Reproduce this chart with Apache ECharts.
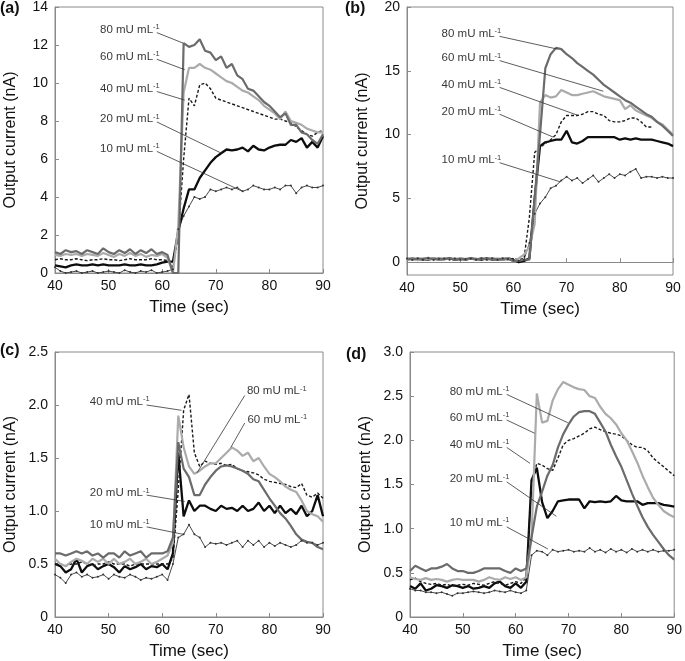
<!DOCTYPE html>
<html><head><meta charset="utf-8">
<script src="https://cdn.jsdelivr.net/npm/echarts@6/dist/echarts.min.js"></script>
<style>html,body{margin:0;padding:0;background:#fff}#c{width:685px;height:661px}</style>
</head><body><div id="c"></div><script>
const times = [40,41,42,43,44,45,46,47,48,49,50,51,52,53,54,55,56,57,58,59,60,61,62,63,64,65,66,67,68,69,70,71,72,73,74,75,76,77,78,79,80,81,82,83,84,85,86,87,88,89,90];
const concLabels = ['80 mU mL','60 mU mL','40 mU mL','20 mU mL','10 mU mL'];

// Panel (a)
const A80 = [1.1,1.0,1.2,1.1,1.15,1.0,1.2,1.1,1.0,1.3,1.1,1.0,1.2,1.05,1.25,1.0,1.2,1.05,1.25,1.0,1.1,0.95, 0,0, 12.1,11.9,12.0,12.3,11.7,11.6, 11.2,11.4,10.8,11.0,10.4,10.2,9.7,9.6,9.3,9.0, 8.8,8.5,8.2,8.4,7.8,7.8,7.4,7.3,7.0,6.8, 7.3];
const A60 = [0.95,0.9,1.0,0.95,1.0,0.9,1.0,0.95,0.9,1.05,0.95,0.85,1.0,0.9,1.05,0.9,1.0,0.85,0.95,0.9,1.0,0.8, 0,2.5, 9.5,10.8,10.8,11.0,10.8,10.7, 10.5,10.3,10.1,10.0,9.8,9.6,9.5,9.3,9.1,8.8, 8.6,8.4,8.1,8.5,8.0,7.9,7.8,7.6,7.5,7.4, 7.4];
const A40 = [0.7,0.75,0.7,0.7,0.75,0.7,0.65,0.7,0.7,0.75,0.7,0.7,0.65,0.7,0.75,0.7,0.7,0.7,0.75,0.7,0.7,0.65, 0.3,2.0, 6.0,9.2,8.8,9.9,10.0,9.7, 9.2,9.1,9.0,8.9,8.8,8.7,8.6,8.5,8.4,8.3, 8.2,8.1,8.1,8.0,7.9,7.7,7.5,7.3,7.2,7.4, 7.5];
const A20 = [0.4,0.35,0.3,0.4,0.45,0.4,0.4,0.45,0.4,0.45,0.4,0.4,0.4,0.45,0.4,0.4,0.45,0.4,0.4,0.45,0.55,0.6, 0.6,2.2, 3.4,4.4,4.4,5.0,5.4,5.8, 6.1,6.3,6.5,6.45,6.5,6.6,6.4,6.7,6.5,6.45, 6.6,6.7,6.75,6.75,7.0,6.9,7.1,6.6,6.9,6.6, 7.2];
const A10 = [0.3,0.1,0.0,0.05,0.1,0.0,0.05,0.1,0.0,0.05,0.1,0.05,0.0,0.15,0.05,0.0,0.1,0.05,0.15,0.0,0.05,0.1, 0.2,2.3, 3.0,3.5,4.0,3.9,4.0,4.4, 4.3,4.4,4.5,4.4,4.5,4.3,4.4,4.6,4.5,4.4, 4.4,4.5,4.4,4.6,4.6,4.2,4.5,4.6,4.5,4.5, 4.6];

// Panel (b)
const B80 = [0.3,0.2,0.3,0.25,0.35,0.2,0.3,0.25,0.3,0.2,0.3,0.25,0.3,0.2,0.3,0.25,0.3,0.2,0.3,0.25,0.1,0.1, 0.2,0.2, 5.0,10.0,15.2,16.3,16.8,16.7, 16.3,16.0,15.6,15.3,15.0,14.7,14.3,13.9,13.6,13.3, 13.0,12.7,12.5,12.2,11.9,11.6,11.4,11.0,10.7,10.3, 9.9];
const B60 = [0.2,0.3,0.15,0.3,0.25,0.3,0.2,0.3,0.25,0.3,0.2,0.25,0.3,0.2,0.3,0.2,0.25,0.3,0.2,0.3,0.1,0.3, 0.6,1.2, 3.0,12.5,13.1,12.9,13.0,13.5, 13.3,13.1,13.1,13.2,13.3,13.4,13.2,13.0,12.9,12.8, 12.7,12.0,12.3,11.9,11.7,11.5,11.3,11.0,10.8,10.4, 10.0];
const B40 = [0.25,0.2,0.3,0.2,0.3,0.25,0.2,0.3,0.25,0.2,0.3,0.2,0.25,0.3,0.2,0.25,0.3,0.2,0.25,0.2,0.3,0.2, 0.3,3.5, 8.6,9.0,9.3,9.6,10.0,11.0, 11.5,11.5,11.5,11.6,11.8,11.8,11.6,11.5,11.1,11.0, 11.0,11.1,11.3,11.3,11.0,10.6,10.6,null,null,null, null];
const B20 = [0.2,0.3,0.2,0.25,0.2,0.3,0.2,0.25,0.3,0.2,0.25,0.2,0.3,0.25,0.2,0.3,0.2,0.25,0.2,0.3,0.2,0.0, 0.1,0.3, 5.0,9.1,9.4,9.5,9.6,9.6, 10.3,9.4,9.3,9.5,9.8,9.8,9.8,9.8,9.8,9.8, 9.6,9.7,9.6,9.7,9.6,9.6,9.6,9.5,9.4,9.3, 9.1];
const B10 = [0.3,0.2,0.3,0.2,0.3,0.2,0.25,0.3,0.2,0.3,0.2,0.25,0.3,0.2,0.3,0.2,0.3,0.2,0.3,0.25,0.2,0.1, 0.2,1.5, 3.8,4.6,5.1,5.8,6.0,6.4, 6.7,6.4,6.6,6.2,6.5,6.8,6.3,6.6,6.9,6.6, 6.9,6.8,7.1,7.3,6.6,6.7,6.7,6.6,6.7,6.6, 6.6];

// Panel (c)
const C80 = [0.6,0.6,0.58,0.6,0.62,0.6,0.62,0.58,0.6,0.56,0.6,0.6,0.56,0.62,0.58,0.6,0.62,0.56,0.6,0.6,0.6,0.62, 0.75,1.65, 1.4,1.32,1.15,1.15,1.25,1.32, 1.38,1.42,1.43,1.42,1.4,1.38,1.35,1.3,1.28,1.2, 1.12,1.05,0.98,0.93,0.86,0.78,0.73,0.71,0.7,0.66, 0.64];
const C60 = [0.55,0.5,0.48,0.52,0.55,0.53,0.5,0.55,0.52,0.55,0.5,0.55,0.5,0.52,0.55,0.5,0.52,0.55,0.5,0.52,0.55,0.58, 0.7,1.9, 1.6,1.42,1.35,1.38,1.42,1.45, 1.45,1.5,1.55,1.6,1.57,1.52,1.55,1.47,1.5,1.42, 1.35,1.32,1.28,1.23,1.2,1.18,1.1,1.0,0.97,0.95, 0.9];
const C40 = [0.5,0.5,0.48,0.5,0.5,0.52,0.5,0.48,0.5,0.5,0.52,0.5,0.5,0.5,0.48,0.5,0.5,0.5,0.5,0.5,0.5,0.5, 0.55,1.2, 1.95,2.1,1.55,1.42,1.47,1.45, 1.44,1.45,1.43,1.44,1.4,1.38,1.37,1.36,1.34,1.3, 1.28,1.27,1.26,1.25,1.23,1.22,1.26,1.15,1.13,1.17, 1.12];
const C20 = [0.5,0.48,0.42,0.45,0.55,0.42,0.48,0.5,0.45,0.48,0.5,0.47,0.42,0.48,0.45,0.47,0.5,0.45,0.48,0.47,0.5,0.45, 0.6,1.55, 0.95,1.1,1.0,1.05,1.05,1.02, 1.0,1.05,1.02,1.03,1.0,1.05,1.0,1.02,1.08,1.0, 1.05,0.98,1.05,0.98,1.02,0.97,1.05,0.95,1.0,1.15, 0.95];
const C10 = [0.4,0.37,0.32,0.4,0.42,0.38,0.4,0.37,0.38,0.4,0.36,0.4,0.38,0.37,0.4,0.38,0.35,0.37,0.36,0.38,0.4,0.35, 0.5,0.75, 0.78,0.87,0.78,0.75,0.66,0.7, 0.69,0.7,0.68,0.7,0.72,0.66,0.72,0.68,0.72,0.66, 0.7,0.67,0.7,0.68,0.66,0.68,0.72,0.7,0.7,0.68, 0.7];

// Panel (d)
const D80 = [0.52,0.58,0.55,0.52,0.55,0.55,0.57,0.6,0.55,0.52,0.52,0.5,0.5,0.52,0.55,0.55,0.55,0.55,0.52,0.5,0.55,0.52, 0.55,0.9, 1.25,1.42,1.6,1.72,1.92,2.07, 2.18,2.27,2.32,2.33,2.33,2.3,2.2,2.1,1.95,1.82, 1.7,1.55,1.4,1.26,1.13,1.02,0.93,0.85,0.77,0.7, 0.65];
const D60 = [0.45,0.43,0.42,0.44,0.42,0.43,0.42,0.4,0.42,0.43,0.42,0.42,0.42,0.4,0.42,0.45,0.43,0.42,0.45,0.43,0.45,0.42, 0.45,0.9, 2.53,2.2,2.22,2.45,2.58,2.66, 2.63,2.6,2.58,2.57,2.5,2.48,2.38,2.3,2.25,2.18, 2.08,2.0,1.88,1.75,1.6,1.47,1.35,1.27,1.2,1.16, 1.13];
const D40 = [0.42,0.44,0.4,0.38,0.37,0.38,0.36,0.37,0.35,0.36,0.37,0.36,0.38,0.37,0.36,0.38,0.4,0.38,0.36,0.38,0.4,0.38, 0.45,1.5, 1.74,1.72,1.68,1.66,1.8,1.95, 2.0,2.02,2.05,2.08,2.13,2.15,2.12,2.1,2.08,2.07, 2.05,2.0,1.95,1.92,1.92,1.88,1.8,1.75,1.7,1.65, 1.6];
const D20 = [0.35,0.32,0.38,0.3,0.32,0.36,0.35,0.33,0.36,0.35,0.33,0.35,0.32,0.33,0.35,0.33,0.38,0.4,0.35,0.33,0.38,0.33, 0.4,1.55, 1.69,1.3,1.12,1.2,1.31,1.32, 1.33,1.33,1.33,1.23,1.31,1.3,1.31,1.3,1.31,1.37, 1.32,1.31,1.31,1.31,1.27,1.29,1.29,1.29,1.27,1.26, 1.25];
const D10 = [0.32,0.3,0.3,0.28,0.28,0.27,0.28,0.26,0.24,0.27,0.27,0.28,0.29,0.28,0.27,0.28,0.3,0.29,0.28,0.3,0.28,0.27, 0.3,0.7, 0.75,0.74,0.7,0.76,0.74,0.75, 0.76,0.74,0.75,0.74,0.78,0.74,0.76,0.73,0.77,0.74, 0.76,0.73,0.77,0.74,0.76,0.74,0.76,0.74,0.75,0.75, 0.76];

// Y-axis ticks per panel
const yTicksA = [0,2,4,6,8,10,12,14];
const yTicksB = [0,5,10,15,20];
const yTicksC = [0,0.5,1.0,1.5,2.0,2.5];
const yTicksD = [0,0.5,1.0,1.5,2.0,2.5,3.0];

// Annotation anchors (data coords): label [x,y] and leader [[x1,y1],[x2,y2]] in order 80,60,40,20,10
const annA = {lab:[[48.4,12.8],[48.4,11.4],[48.4,9.7],[48.4,8.1],[48.4,6.56]],
  lead:[[[59,12.65],[63.9,12.1]],[[59,11.25],[64.2,10.7]],[[59,9.55],[64.2,9.1]],[[59,7.95],[71.1,6.3]],[[59,6.4],[75.1,4.28]]]};
const annB = {lab:[[46.5,17.9],[46.5,16.0],[46.5,13.9],[46.5,11.8],[46.5,8.0]],
  lead:[[[57.4,17.7],[68.3,16.7]],[[57.4,15.8],[76.9,13.4]],[[57.4,13.7],[72.2,11.5]],[[57.4,11.6],[67.5,9.8]],[[57.4,7.8],[68.8,6.3]]]};
const annC = {lab:[[75.8,2.13],[75.9,1.86],[46.5,2.03],[46.5,1.17],[46.5,0.87]],
  lead:[[[75.4,2.09],[66.5,1.36]],[[75.4,1.83],[72.8,1.6]],[[57.1,2.0],[63.6,1.95]],[[57.1,1.15],[64.2,1.09]],[[57.1,0.85],[63.9,0.78]]]};
const annD = {lab:[[47.5,2.55],[47.5,2.26],[47.5,1.95],[47.5,1.56],[47.5,1.07]],
  lead:[[[58.3,2.52],[69.85,2.2]],[[58.3,2.23],[63.6,2.08]],[[58.3,1.92],[62.7,1.74]],[[58.3,1.53],[67.7,1.14]],[[58.3,1.02],[66.1,0.77]]]};

const panels = [
  {data:[A80,A60,A40,A20,A10], ann:annA, ticks:yTicksA, grid:{left:55,top:7,width:268,height:266}, ymin:0, ymax:14, tag:'(a)', tagPos:[0,1]},
  {data:[B80,B60,B40,B20,B10], ann:annB, ticks:yTicksB, grid:{left:407,top:7,width:266,height:268}, ymin:-1, ymax:20, tag:'(b)', tagPos:[345,1]},
  {data:[C80,C60,C40,C20,C10], ann:annC, ticks:yTicksC, grid:{left:55,top:352,width:268,height:265}, ymin:0, ymax:2.5, tag:'(c)', tagPos:[0,343]},
  {data:[D80,D60,D40,D20,D10], ann:annD, ticks:yTicksD, grid:{left:410,top:352,width:268,height:266}, ymin:0, ymax:3.0, tag:'(d)', tagPos:[346,347]}
];

const FONT = 'Liberation Sans, Arial, sans-serif';
const AX = '#8a8a8a';
const styles = [
  {color:'#6b6b6b', width:2.2, type:'solid'},
  {color:'#ababab', width:2.2, type:'solid'},
  {color:'#1a1a1a', width:1.4, type:[3,2]},
  {color:'#0d0d0d', width:2.3, type:'solid'},
  {color:'#333333', width:0.9, type:'solid'}
];
const drawOrder = [4,3,2,1,0];

const grids=[], xAxes=[], yAxes=[], series=[], graphics=[];
panels.forEach((p,i)=>{
  grids.push(Object.assign({show:true, borderColor:AX, borderWidth:1, backgroundColor:'transparent'}, p.grid));
  xAxes.push({type:'value', gridIndex:i, min:40, max:90, interval:10,
    axisLine:{lineStyle:{color:AX,width:1}}, axisTick:{inside:true,length:4,lineStyle:{color:AX}},
    axisLabel:{color:'#111', fontSize:14, fontFamily:FONT, margin:6}, splitLine:{show:false},
    name:'Time (sec)', nameLocation:'middle', nameGap:26,
    nameTextStyle:{color:'#111', fontSize:17, fontFamily:FONT}});
  yAxes.push({type:'value', gridIndex:i, min:p.ymin, max:p.ymax, interval:(p.ticks[1]-p.ticks[0]),
    axisLine:{show:true,lineStyle:{color:AX,width:1}},
    axisTick:{show:true,inside:true,length:4,lineStyle:{color:AX}, customValues:p.ticks},
    axisLabel:{color:'#111', fontSize:14, fontFamily:FONT, margin:7, customValues:p.ticks,
      formatter:(v)=> (i>=2 ? (v===0?'0':v.toFixed(1)) : String(v))},
    splitLine:{show:false},
    name:'Output current (nA)', nameLocation:'middle', nameGap:36,
    nameTextStyle:{color:'#111', fontSize:16, fontFamily:FONT}});
  drawOrder.forEach(k=>{
    const st = styles[k];
    const thin = (k===4);
    series.push({type:'line', xAxisIndex:i, yAxisIndex:i, animation:false, silent:true,
      data: times.map((t,j)=>[t, p.data[k][j]]),
      lineStyle:{color:st.color, width:st.width, type:st.type},
      itemStyle:{color:st.color},
      symbol: thin ? 'circle' : 'none', symbolSize: thin ? 2 : 0, showSymbol: thin,
      connectNulls:false, z: 2});
  });
  series.push({type:'lines', coordinateSystem:'cartesian2d', xAxisIndex:i, yAxisIndex:i, animation:false, silent:true,
    data: p.ann.lead.map(c=>({coords:c})), lineStyle:{color:'#333', width:0.8, opacity:1}, z:3});
  series.push({type:'scatter', xAxisIndex:i, yAxisIndex:i, animation:false, silent:true, symbolSize:0,
    data: p.ann.lab.map((c,k)=>({value:c, name:concLabels[k]})),
    label:{show:true, position:'right', distance:0,
      formatter:(q)=>'{b|'+q.name+'}{s|-1}',
      rich:{b:{fontSize:11.5, fontFamily:FONT, color:'#000', lineHeight:13},
            s:{fontSize:7.5, fontFamily:FONT, color:'#000', lineHeight:7, verticalAlign:'top'}}},
    z:4});
  graphics.push({type:'text', left:p.tagPos[0], top:p.tagPos[1], style:{text:p.tag, font:'bold 16px '+FONT, fill:'#111'}});
});

const chart = echarts.init(document.getElementById('c'), null, {renderer:'canvas'});
chart.setOption({animation:false, backgroundColor:'#fff', grid:grids, xAxis:xAxes, yAxis:yAxes, series:series, graphic:graphics});
</script></body></html>
